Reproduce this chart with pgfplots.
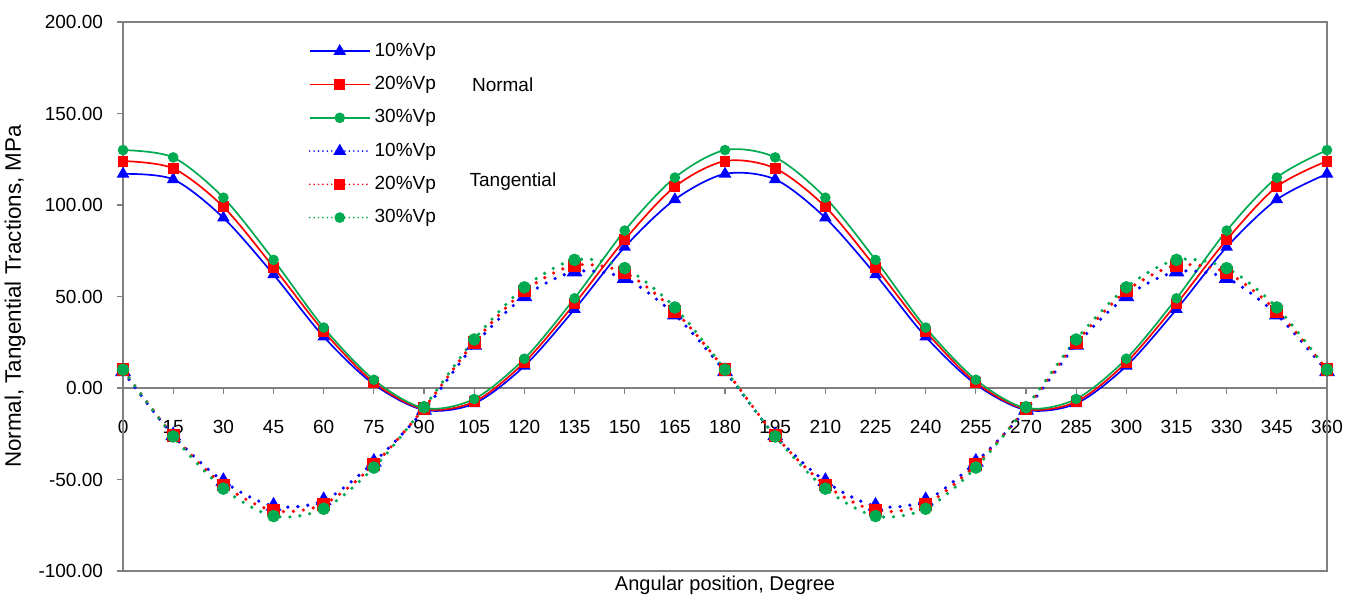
\documentclass[border=0pt]{standalone}
\usepackage{fontspec}
\setmainfont{Liberation Sans}
\usepackage{pgfplots}
\usepackage{pgfplotstable}
\pgfplotsset{compat=1.18}

\definecolor{cBlue}{RGB}{0,0,255}
\definecolor{cRed}{RGB}{255,0,0}
\definecolor{cGreen}{RGB}{0,170,80}
\definecolor{axgray}{RGB}{128,128,128}

% angle, normal (10/20/30 %Vp), tangential (10/20/30 %Vp)
\pgfplotstableread{
ang  nb    nr    ng    tb     tr     tg
0    117   124   130   9      10     10
15   114   120   126   -26    -26    -26.5
30   93    99    104   -51    -53    -55
45   62    66    70    -64.5  -67    -70
60   28    31    33    -61.5  -63.5  -66
75   2     3     4.5   -40.5  -42    -43.5
90   -12   -11.5 -11   -12    -11    -10.5
105  -8.5  -7.5  -6    23.5   25     26.5
120  12    14    16    50     53     55
135  43    46    49    63.5   67     70
150  77    81    86    60     63     65.5
165  103   110   115   40     42     44
180  117   124   130   9      10     10
195  114   120   126   -26    -26    -26.5
210  93    99    104   -51    -53    -55
225  62    66    70    -64.5  -67    -70
240  28    31    33    -61.5  -63.5  -66
255  2     3     4.5   -40.5  -42    -43.5
270  -12   -11.5 -11   -12    -11    -10.5
285  -8.5  -7.5  -6    23.5   25     26.5
300  12    14    16    50     53     55
315  43    46    49    63.5   67     70
330  77    81    86    60     63     65.5
345  103   110   115   40     42     44
360  117   124   130   9      10     10
}\traction

\begin{document}
\begin{tikzpicture}
\begin{axis}[
  scale only axis,
  width=602pt, height=274.5pt,
  xmin=0, xmax=360, ymin=-100, ymax=200,
  xtick={0,15,...,360},
  ytick={-100,-50,...,200},
  axis x line=middle,
  axis y line=left,
  hide obscured x ticks=false,
  axis line style={-, axgray, line width=0.8pt},
  tick style={axgray, line width=0.6pt},
  tick align=outside,
  major tick length=3pt,
  font=\fontsize{9.5}{11}\selectfont,
  /pgf/number format/assume math mode=true,
  yticklabel style={xshift=-3.5pt, /pgf/number format/.cd, fixed, fixed zerofill, precision=2},
  xticklabel style={yshift=-9.5pt},
  xlabel={Angular position, Degree},
  ylabel={Normal, Tangential Tractions, MPa},
  x label style={at={(rel axis cs:0.5,-0.027)}, anchor=center, font=\fontsize{10}{12}\selectfont},
  y label style={at={(rel axis cs:-0.0897,0.5)}, anchor=center, font=\fontsize{11.2}{13}\selectfont},
  clip=false,
  legend cell align=left,
  legend style={draw=none, fill=none, at={(rel axis cs:0.154,0.9695)}, anchor=north west,
    row sep=4.5pt, inner sep=0pt, font=\fontsize{9.5}{11}\selectfont},
  legend image code/.code={
    \draw[mark repeat=2, mark phase=2, #1] plot coordinates {(0pt,0pt) (15pt,0pt) (30pt,0pt)};
  },
  every axis plot/.append style={smooth},
  nline/.style={line width=0.85pt},
  tline/.style={line width=1.8pt, line cap=round, dash pattern=on 0pt off 5pt,
    legend image post style={line width=0.9pt, dash pattern=on 0pt off 2.2pt}},
]
\addplot[nline, cBlue, mark=triangle*, mark size=2.8pt, mark options={solid}] table[x=ang, y=nb] {\traction};
\addplot[nline, cRed, mark=square*, mark size=2.3pt, mark options={solid}] table[x=ang, y=nr] {\traction};
\addplot[nline, cGreen, mark=*, mark size=2.2pt, mark options={solid}] table[x=ang, y=ng] {\traction};
\addplot[tline, cBlue, mark=triangle*, mark size=2.8pt, mark options={solid}] table[x=ang, y=tb] {\traction};
\addplot[tline, cRed, mark=square*, mark size=2.3pt, mark options={solid}] table[x=ang, y=tr] {\traction};
\addplot[tline, cGreen, mark=*, mark size=2.2pt, mark options={solid}] table[x=ang, y=tg] {\traction};
\legend{10\%Vp, 20\%Vp, 30\%Vp, 10\%Vp, 20\%Vp, 30\%Vp}

\draw[axgray, line width=0.8pt] (rel axis cs:0,0) rectangle (rel axis cs:1,1);
\node[anchor=west] at (rel axis cs:0.284,0.885) {Normal};
\node[anchor=west] at (rel axis cs:0.282,0.710) {Tangential};
\coordinate (bbl) at (rel axis cs:-0.1022,-0.0492);
\coordinate (btr) at (rel axis cs:1.0241,1.0401);
\end{axis}
\pgfresetboundingbox
\path[use as bounding box] (bbl) rectangle (btr);
\end{tikzpicture}
\end{document}
